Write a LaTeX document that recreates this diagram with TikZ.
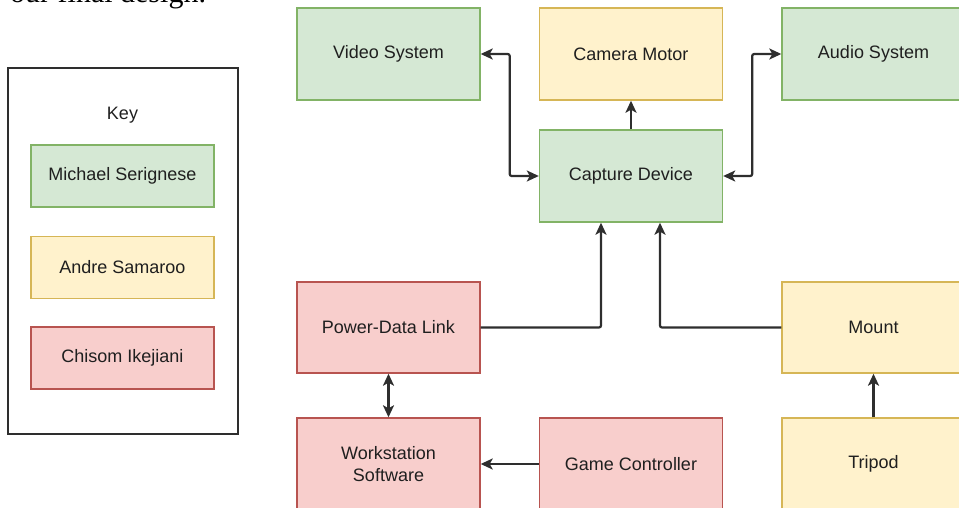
\documentclass[tikz,border=0pt]{standalone}
\usepackage{fontspec}
\setmainfont{Liberation Sans}
\newfontfamily\serifface{Liberation Serif}
\usetikzlibrary{arrows.meta}
\definecolor{gfill}{HTML}{D5E8D4}\definecolor{gline}{HTML}{82B366}
\definecolor{yfill}{HTML}{FFF2CC}\definecolor{yline}{HTML}{D6B656}
\definecolor{rfill}{HTML}{F8CECC}\definecolor{rline}{HTML}{B85450}
\definecolor{wire}{HTML}{2E2E2E}
\tikzset{
  blk/.style={rectangle, minimum width=183pt, minimum height=92pt, line width=1.4pt,
    inner sep=2pt, align=center, text=black!88, font=\fontsize{18}{22}\selectfont},
  keyblk/.style={blk, minimum height=62pt},
  grn/.style={fill=gfill, draw=gline},
  ylw/.style={fill=yfill, draw=yline},
  red/.style={fill=rfill, draw=rline},
  wirelink/.style={draw=wire, line width=2.2pt, rounded corners=2pt},
  tip/.tip={Stealth[length=12pt,width=11pt,inset=3pt]},
  uni/.style={wirelink, -tip},
  bi/.style={wirelink, tip-tip}
}
\begin{document}
\begin{tikzpicture}[x=1pt,y=-1pt]
\useasboundingbox (0,0) rectangle (959,508);
\clip (0,0) rectangle (959,508);

% trailing line of the preceding paragraph
\node[anchor=base west, inner sep=0pt, font=\serifface\fontsize{30}{30}\selectfont] (para) at (10,3) {our final design.};

% legend
\draw[draw=wire, line width=1.5pt] (8,68) rectangle (238,434);
\node[font=\fontsize{18}{22}\selectfont, text=black!88] (keytitle) at (122.5,115) {Key};
\node[keyblk, grn] (k1) at (122.5,176) {Michael Serignese};
\node[keyblk, ylw] (k2) at (122.5,267.5) {Andre Samaroo};
\node[keyblk, red] (k3) at (122.5,358) {Chisom Ikejiani};

% system blocks
\node[blk, grn] (vid) at (388.5,54) {Video System};
\node[blk, ylw] (cam) at (631,54) {Camera Motor};
\node[blk, grn] (aud) at (873.5,54) {Audio System};
\node[blk, grn] (cap) at (631,176) {Capture Device};
\node[blk, red, minimum height=91pt] (pdl) at (388.5,327.5) {Power-Data Link};
\node[blk, ylw, minimum height=91pt] (mnt) at (873.5,327.5) {Mount};
\node[blk, red] (ws) at (388.5,464) {Workstation\\Software};
\node[blk, red] (gc) at (631,464) {Game Controller};
\node[blk, ylw] (tri) at (873.5,464) {Tripod};

% connections
\draw[bi] (vid.east) -- ++(29,0) |- (cap.west);
\draw[bi] (cap.east) -- ++(29,0) |- (aud.west);
\draw[uni] (cap) -- (cam);
\draw[uni] (pdl.east) -| ([xshift=-30pt]cap.south);
\draw[uni] (mnt.west) -| ([xshift=29pt]cap.south);
\draw[bi] (pdl) -- (ws);
\draw[uni] (gc) -- (ws);
\draw[uni] (tri) -- (mnt);
\end{tikzpicture}
\end{document}
